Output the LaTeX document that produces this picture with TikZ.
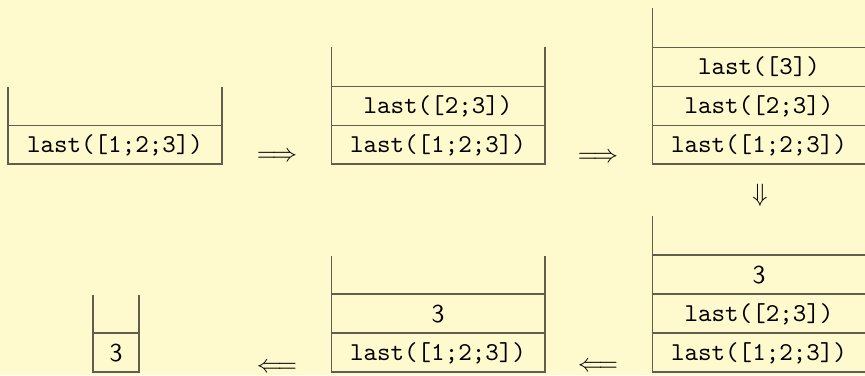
\documentclass[tikz,border=0pt]{standalone}
\usepackage{xcolor}
\definecolor{bgc}{RGB}{255,250,205}
\definecolor{linec}{RGB}{95,95,80}
\tikzset{
  cellline/.style={draw=linec, line width=0.55pt},
  mono/.style={font=\fontsize{10.3}{12}\selectfont\ttfamily, inner sep=0pt, anchor=center},
  sanslbl/.style={font=\fontsize{10.3}{12}\selectfont\sffamily, inner sep=0pt, anchor=center},
  arrowlbl/.style={font=\fontsize{10.3}{12}\selectfont, inner sep=0pt, anchor=center}
}
\begin{document}
\begin{tikzpicture}[x=0.4pt, y=-0.4pt]
\fill[bgc] (0,0) rectangle (865,375);
\useasboundingbox (0,0) rectangle (865,375);
% Stack 1
\draw[cellline] (8,87) -- (8,164) -- (222,164) -- (222,87);
\draw[cellline] (8,125.5) -- (222,125.5);
\node[mono] (s1a) at (115,145) {last([1;2;3])};
% Stack 2
\draw[cellline] (331.5,47) -- (331.5,164) -- (545,164) -- (545,47);
\draw[cellline] (331.5,86.5) -- (545,86.5);
\draw[cellline] (331.5,125.5) -- (545,125.5);
\node[mono] (s2a) at (438,145) {last([1;2;3])};
\node[mono] (s2b) at (438,106) {last([2;3])};
% Stack 3
\draw[cellline] (652.5,8) -- (652.5,164) -- (866,164) -- (866,8);
\draw[cellline] (652.5,47.5) -- (866,47.5);
\draw[cellline] (652.5,86.5) -- (866,86.5);
\draw[cellline] (652.5,125.5) -- (866,125.5);
\node[mono] (s3a) at (759,145) {last([1;2;3])};
\node[mono] (s3b) at (759,106) {last([2;3])};
\node[mono] (s3c) at (759,67) {last([3])};
% Stack 4
\draw[cellline] (652.5,216) -- (652.5,372) -- (866,372) -- (866,216);
\draw[cellline] (652.5,255) -- (866,255);
\draw[cellline] (652.5,294) -- (866,294);
\draw[cellline] (652.5,333) -- (866,333);
\node[mono] (s4a) at (759,353) {last([1;2;3])};
\node[mono] (s4b) at (759,314) {last([2;3])};
\node[sanslbl] (s4c) at (759,275) {3};
% Stack 5
\draw[cellline] (331.5,256) -- (331.5,372) -- (545,372) -- (545,256);
\draw[cellline] (331.5,294) -- (545,294);
\draw[cellline] (331.5,333) -- (545,333);
\node[mono] (s5a) at (438,353) {last([1;2;3])};
\node[sanslbl] (s5b) at (438,314) {3};
% Stack 6
\draw[cellline] (93,295) -- (93,372) -- (139,372) -- (139,295);
\draw[cellline] (93,333) -- (139,333);
\node[sanslbl] (s6a) at (116,353) {3};
% Arrows
\node[arrowlbl] (a1) at (277,157) {$\Longrightarrow$};
\node[arrowlbl] (a2) at (598,158) {$\Longrightarrow$};
\node[arrowlbl] (a3) at (760,195) {$\Downarrow$};
\node[arrowlbl] (a4) at (598,367) {$\Longleftarrow$};
\node[arrowlbl] (a5) at (277,368) {$\Longleftarrow$};
\end{tikzpicture}
\end{document}
